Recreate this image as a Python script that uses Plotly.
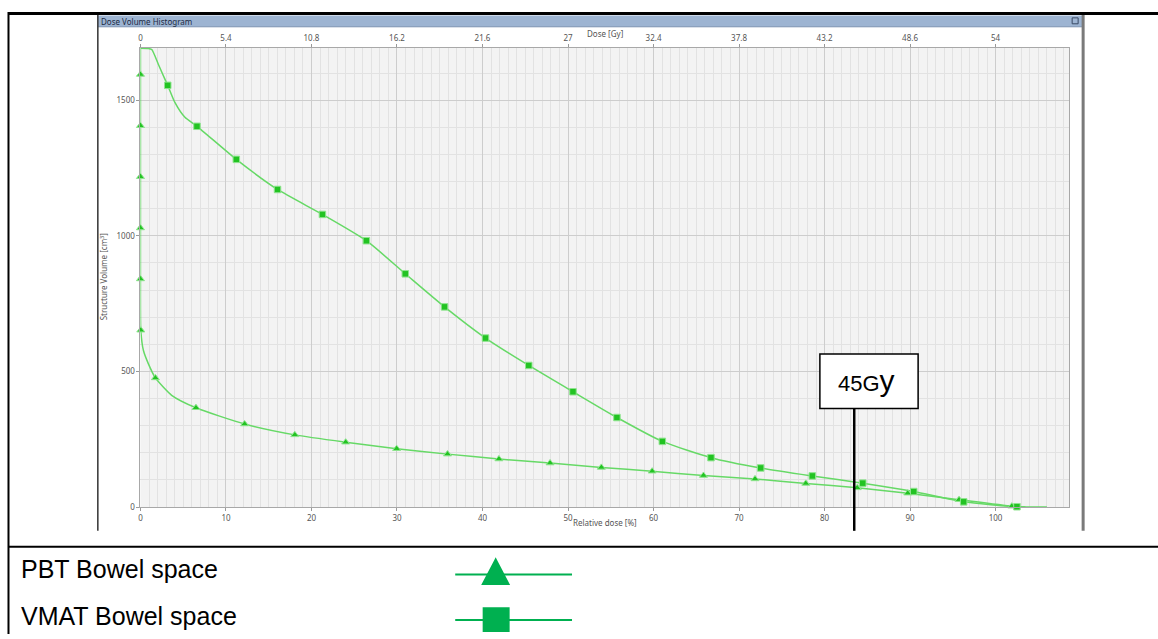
import plotly.graph_objects as go

W, H = 1158, 639

# ---------------- data ----------------
# Relative dose [%] vs structure volume [cm3]
pbt_curve_dose = [0, 0, 0, 0, 0, 0, 0.04, 0.35, 0.93, 1.75, 3.65, 6.49, 12.18, 18.05, 24.0,
                  29.96, 35.91, 41.92, 47.9, 53.9, 59.84, 65.84, 71.87, 77.81, 83.82, 89.73,
                  95.73, 101.9, 103.5]
pbt_curve_vol = [1692, 1595, 1406, 1218, 1029, 841, 652, 577, 528, 476, 412, 366, 306, 266, 239,
                 215, 195, 177, 162, 146, 132, 116, 103.5, 87, 70.6, 51,
                 27, 3, 0]
pbt_mark_dose = [0, 0, 0, 0, 0, 0.04, 1.75, 6.49, 12.18, 18.05, 24.0, 29.96, 35.91, 41.92,
                 47.9, 53.9, 59.84, 65.84, 71.87, 77.81, 83.82, 89.73, 95.73, 101.9]
pbt_mark_vol = [1595, 1406, 1218, 1029, 841, 652, 476, 366, 306, 266, 239, 215, 195, 177,
                162, 146, 132, 116, 103.5, 87, 70.6, 51, 27, 3]

vmat_curve_dose = [0, 0.93, 1.32, 2.1, 2.87, 3.19, 4.04, 5.2, 6.61, 11.21, 16.03, 21.28, 26.42,
                   30.97, 35.56, 40.35, 45.41, 50.58, 55.72, 61.03, 66.72, 72.53, 78.57,
                   84.47, 90.43, 96.27, 102.5, 106]
vmat_curve_vol = [1692, 1691, 1687, 1632, 1577, 1555, 1491, 1437, 1404, 1282, 1171, 1079, 982,
                  860, 738, 623, 522, 425, 330, 242, 182, 144, 114.5,
                  88, 57, 19, 1, 0]
vmat_mark_dose = [3.19, 6.61, 11.21, 16.03, 21.28, 26.42, 30.97, 35.56, 40.35, 45.41, 50.58,
                  55.72, 61.03, 66.72, 72.53, 78.57, 84.47, 90.43, 96.27, 102.5]
vmat_mark_vol = [1555, 1404, 1282, 1171, 1079, 982, 860, 738, 623, 522, 425,
                 330, 242, 182, 144, 114.5, 88, 57, 19, 1]

x_ticks = [0, 10, 20, 30, 40, 50, 60, 70, 80, 90, 100]
gy_ticks = [0, 5.4, 10.8, 16.2, 21.6, 27, 32.4, 37.8, 43.2, 48.6, 54]
gy_labels = ["0", "5.4", "10.8", "16.2", "21.6", "27", "32.4", "37.8", "43.2", "48.6", "54"]
y_ticks = [0, 500, 1000, 1500]
prescription_gy = 54.0

legend_names = ["PBT Bowel space", "VMAT Bowel space"]
marker_label = "45G"

# ---------------- layout helpers ----------------
def px(x):
    return x / W

def py(y):
    return 1 - y / H

X_RANGE = [0, 108.64]
Y_RANGE = [0, 1693]

LINE_C = "#66d966"
MARK_C = "#22c322"
MARK_EDGE = "#8fe48f"
LEG_C = "#00b050"
TICK_FONT = dict(family="Noto Sans", size=8, color="#555555")

fig = go.Figure()

fig.add_trace(go.Scatter(x=pbt_curve_dose, y=pbt_curve_vol, mode="lines",
                         line=dict(color=LINE_C, width=1.5, shape="spline", smoothing=0.6),
                         showlegend=False, hoverinfo="skip"))
fig.add_trace(go.Scatter(x=vmat_curve_dose, y=vmat_curve_vol, mode="lines",
                         line=dict(color=LINE_C, width=1.5, shape="spline", smoothing=0.6),
                         showlegend=False, hoverinfo="skip"))
fig.add_trace(go.Scatter(x=pbt_mark_dose, y=pbt_mark_vol, mode="markers", name=legend_names[0],
                         marker=dict(symbol="triangle-up", size=7, color=MARK_C,
                                     line=dict(color=MARK_EDGE, width=1)),
                         showlegend=False, cliponaxis=False))
fig.add_trace(go.Scatter(x=vmat_mark_dose, y=vmat_mark_vol, mode="markers", name=legend_names[1],
                         marker=dict(symbol="square", size=6.5, color=MARK_C,
                                     line=dict(color=MARK_EDGE, width=1)),
                         showlegend=False, cliponaxis=False))
# invisible trace to activate the top (Gy) axis
fig.add_trace(go.Scatter(x=[X_RANGE[0] * prescription_gy / 100, X_RANGE[1] * prescription_gy / 100],
                         y=[0, 0], xaxis="x2", mode="lines", line=dict(width=0),
                         opacity=0, showlegend=False, hoverinfo="skip"))

dom_x = [px(138.7), px(1069.3)]
dom_y = [py(511), py(48.3)]

fig.update_layout(
    width=W, height=H,
    margin=dict(l=0, r=0, t=0, b=0),
    paper_bgcolor="white",
    plot_bgcolor="#f3f3f3",
    showlegend=False,
    xaxis=dict(domain=dom_x, range=X_RANGE, tickvals=x_ticks, ticks="outside", ticklen=3,
               tickcolor="#999999", tickfont=TICK_FONT, showgrid=True, gridcolor="#cdcdcd",
               gridwidth=1, zeroline=False, showline=True, linecolor="#a8a8a8", linewidth=1,
               mirror=True, anchor="y",
               minor=dict(dtick=1, tick0=0, showgrid=True, gridcolor="#e2e2e2", gridwidth=1)),
    xaxis2=dict(overlaying="x", side="top", anchor="y",
                range=[X_RANGE[0] * prescription_gy / 100, X_RANGE[1] * prescription_gy / 100],
                tickvals=gy_ticks, ticktext=gy_labels, ticks="outside", ticklen=3,
                tickcolor="#999999", tickfont=TICK_FONT, showgrid=False, zeroline=False,
                showline=False),
    yaxis=dict(domain=dom_y, range=Y_RANGE, tickvals=y_ticks, ticks="outside", ticklen=3,
               tickcolor="#999999", tickfont=TICK_FONT, showgrid=True, gridcolor="#cdcdcd",
               gridwidth=1, zeroline=False, showline=True, linecolor="#a8a8a8", linewidth=1,
               mirror=True,
               minor=dict(dtick=100, tick0=0, showgrid=True, gridcolor="#e2e2e2", gridwidth=1)),
)

shapes = []
# window title bar
shapes.append(dict(type="rect", xref="paper", yref="paper", x0=px(96), x1=px(1082),
                   y0=py(27), y1=py(15.5), fillcolor="#9db4d2", line=dict(width=0), layer="below"))
shapes.append(dict(type="line", xref="paper", yref="paper", x0=px(96), x1=px(1082),
                   y0=py(27), y1=py(27), line=dict(color="#7d93b0", width=1)))
# small window icon in the title bar
shapes.append(dict(type="rect", xref="paper", yref="paper", x0=px(1072), x1=px(1078),
                   y0=py(24), y1=py(18), fillcolor="rgba(0,0,0,0)",
                   line=dict(color="#3a4a66", width=1)))
# window frame
shapes.append(dict(type="line", xref="paper", yref="paper", x0=px(96), x1=px(96),
                   y0=py(15), y1=py(535), line=dict(color="#333333", width=1.5)))
shapes.append(dict(type="line", xref="paper", yref="paper", x0=px(1083), x1=px(1083),
                   y0=py(15), y1=py(535), line=dict(color="#7a7a7a", width=3)))
# outer table lines
shapes.append(dict(type="line", xref="paper", yref="paper", x0=px(6), x1=1,
                   y0=py(13.5), y1=py(13.5), line=dict(color="black", width=3)))
shapes.append(dict(type="line", xref="paper", yref="paper", x0=px(6.5), x1=px(6.5),
                   y0=py(12), y1=0, line=dict(color="black", width=2)))
shapes.append(dict(type="line", xref="paper", yref="paper", x0=px(6), x1=1,
                   y0=py(551), y1=py(551), line=dict(color="black", width=2)))
# 45 Gy marker
shapes.append(dict(type="line", xref="paper", yref="paper", x0=px(853.7), x1=px(853.7),
                   y0=py(411.7), y1=py(535), line=dict(color="black", width=2.5)))
shapes.append(dict(type="rect", xref="paper", yref="paper", x0=px(819.3), x1=px(917.7),
                   y0=py(411.7), y1=py(356.7), fillcolor="white",
                   line=dict(color="black", width=1.5)))
# legend glyphs
for yl in (579, 625):
    shapes.append(dict(type="line", xref="paper", yref="paper", x0=px(454), x1=px(571),
                       y0=py(yl), y1=py(yl), line=dict(color=LEG_C, width=2)))
tri = "M {},{} L {},{} L {},{} Z".format(px(494.5), py(565), px(482.5), py(588), px(506.5), py(588))
shapes.append(dict(type="path", xref="paper", yref="paper", path=tri, fillcolor=LEG_C,
                   line=dict(color=LEG_C, width=3)))
shapes.append(dict(type="rect", xref="paper", yref="paper", x0=px(482.5), x1=px(507.5),
                   y0=py(636), y1=py(613), fillcolor=LEG_C, line=dict(color=LEG_C, width=2)))
fig.update_layout(shapes=shapes)

ann = []
ann.append(dict(text="Dose Volume Histogram", xref="paper", yref="paper", x=px(97.5), y=py(21.3),
                xanchor="left", yanchor="middle", showarrow=False,
                font=dict(family="Noto Sans", size=8, color="#1c2b45")))
ann.append(dict(text="Dose [Gy]", xref="paper", yref="paper", x=px(604), y=py(33.5),
                xanchor="center", yanchor="middle", showarrow=False,
                font=dict(family="Noto Sans", size=8, color="#555555")))
ann.append(dict(text="Relative dose [%]", xref="paper", yref="paper", x=px(604), y=py(526.5),
                xanchor="center", yanchor="middle", showarrow=False,
                font=dict(family="Noto Sans", size=8, color="#555555")))
ann.append(dict(text="Structure Volume [cm<sup>3</sup>]", xref="paper", yref="paper",
                x=px(101.7), y=py(279), textangle=-90, xanchor="center", yanchor="middle",
                showarrow=False, font=dict(family="Noto Sans", size=8, color="#555555")))
ann.append(dict(text=marker_label + '<span style="font-size:30px">y</span>', xref="paper",
                yref="paper", x=px(866), y=py(383), xanchor="center", yanchor="middle",
                showarrow=False, font=dict(family="Liberation Sans", size=22, color="black")))
ann.append(dict(text=legend_names[0], xref="paper", yref="paper", x=px(17), y=py(573),
                xanchor="left", yanchor="middle", showarrow=False,
                font=dict(family="Liberation Sans", size=25, color="black")))
ann.append(dict(text=legend_names[1], xref="paper", yref="paper", x=px(17), y=py(621),
                xanchor="left", yanchor="middle", showarrow=False,
                font=dict(family="Liberation Sans", size=25, color="black")))
fig.update_layout(annotations=ann)

fig.write_html("out.html", config={"displayModeBar": False},
               post_script="document.body.style.margin='0px';document.body.style.overflow='hidden';")
